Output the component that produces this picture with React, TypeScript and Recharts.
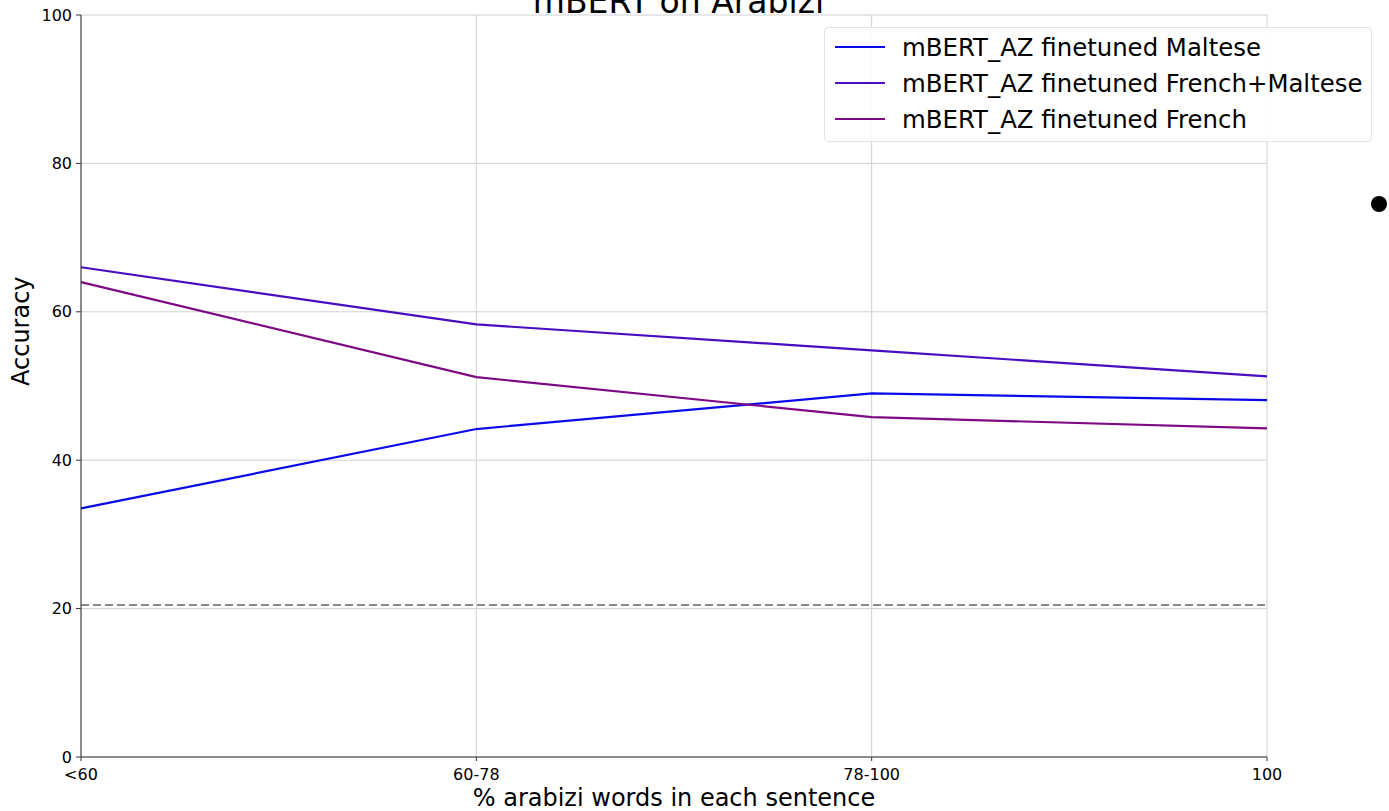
import React from 'react';
import {
  LineChart, Line, XAxis, YAxis, CartesianGrid, ReferenceLine
} from 'recharts';

const categories = ['<60', '60-78', '78-100', '100'];
const maltese = [33.5, 44.2, 49.0, 48.1];
const frenchMaltese = [66.0, 58.3, 54.8, 51.3];
const french = [64.0, 51.2, 45.8, 44.3];
const baseline = 20.5;
const yTicks = [0, 20, 40, 60, 80, 100];

const series = [
  { key: 'maltese', name: 'mBERT_AZ finetuned Maltese', color: '#0a0ae8' },
  { key: 'frenchMaltese', name: 'mBERT_AZ finetuned French+Maltese', color: '#4a0cbf' },
  { key: 'french', name: 'mBERT_AZ finetuned French', color: '#7d0a84' },
];

const data = categories.map((name, i) => ({
  name,
  maltese: maltese[i],
  frenchMaltese: frenchMaltese[i],
  french: french[i],
}));

const FONT = '"DejaVu Sans", sans-serif';

const LegendBox = () => (
  <div
    style={{
      position: 'absolute',
      left: 824,
      top: 27,
      background: 'rgba(255,255,255,0.9)',
      border: '1px solid #e4e4e4',
      borderRadius: 4,
      padding: '1px 0 4px 10px',
      width: 536,
      fontFamily: FONT,
      fontSize: 24.4,
      color: '#000',
      overflow: 'hidden',
      whiteSpace: 'nowrap',
    }}
  >
    {series.map(s => (
      <div key={s.key} style={{ display: 'flex', alignItems: 'center', height: 36 }}>
        <span style={{ display: 'inline-block', width: 50, height: 2, background: s.color, marginRight: 17 }} />
        <span>{s.name}</span>
      </div>
    ))}
  </div>
);

export default function App() {
  return (
    <div style={{ position: 'absolute', left: 0, top: 0, width: 1389, height: 811, background: '#fff', overflow: 'hidden' }}>
      <LineChart
        width={1389}
        height={811}
        data={data}
        margin={{ top: 15, right: 122, left: 0, bottom: 0 }}
      >
        <CartesianGrid stroke="#d0d0d0" strokeWidth={1} />
        <XAxis
          dataKey="name"
          height={54}
          stroke="#333"
          tickLine={{ stroke: '#333' }}
          tickSize={4}
          tick={{ fill: '#000', fontSize: 16, fontFamily: FONT, dy: 6 }}
          label={{ value: '% arabizi words in each sentence', position: 'insideBottom', offset: 5, fill: '#000', fontSize: 24, fontFamily: FONT }}
        />
        <XAxis xAxisId="top" dataKey="name" orientation="top" height={0} tick={false} tickLine={false} stroke="#666" />
        <YAxis
          width={81}
          domain={[0, 100]}
          ticks={yTicks}
          stroke="#333"
          tickLine={{ stroke: '#333' }}
          tickSize={5}
          tick={{ fill: '#000', fontSize: 16, fontFamily: FONT, dx: -2 }}
          label={{ value: 'Accuracy', angle: -90, position: 'insideLeft', offset: 20, fill: '#000', fontSize: 24, fontFamily: FONT }}
        />
        <YAxis yAxisId="right" orientation="right" width={0} tick={false} tickLine={false} stroke="#666" domain={[0, 100]} />
        <ReferenceLine y={baseline} stroke="#8a8a8a" strokeWidth={2} strokeDasharray="8 4" />
        {series.map(s => (
          <Line
            key={s.key}
            type="linear"
            dataKey={s.key}
            name={s.name}
            stroke={s.color}
            strokeWidth={2.2}
            dot={false}
            isAnimationActive={false}
          />
        ))}
      </LineChart>
      <div
        style={{
          position: 'absolute', left: 0, width: 1389, top: -18, textAlign: 'center',
          fontFamily: FONT, fontSize: 33, color: '#000',
        }}
      >
        <span style={{ position: 'relative', left: -16 }}>mBERT on Arabizi</span>
      </div>
      <LegendBox />
      <div style={{ position: 'absolute', left: 1371, top: 196, width: 16, height: 16, borderRadius: 8, background: '#000' }} />
    </div>
  );
}
